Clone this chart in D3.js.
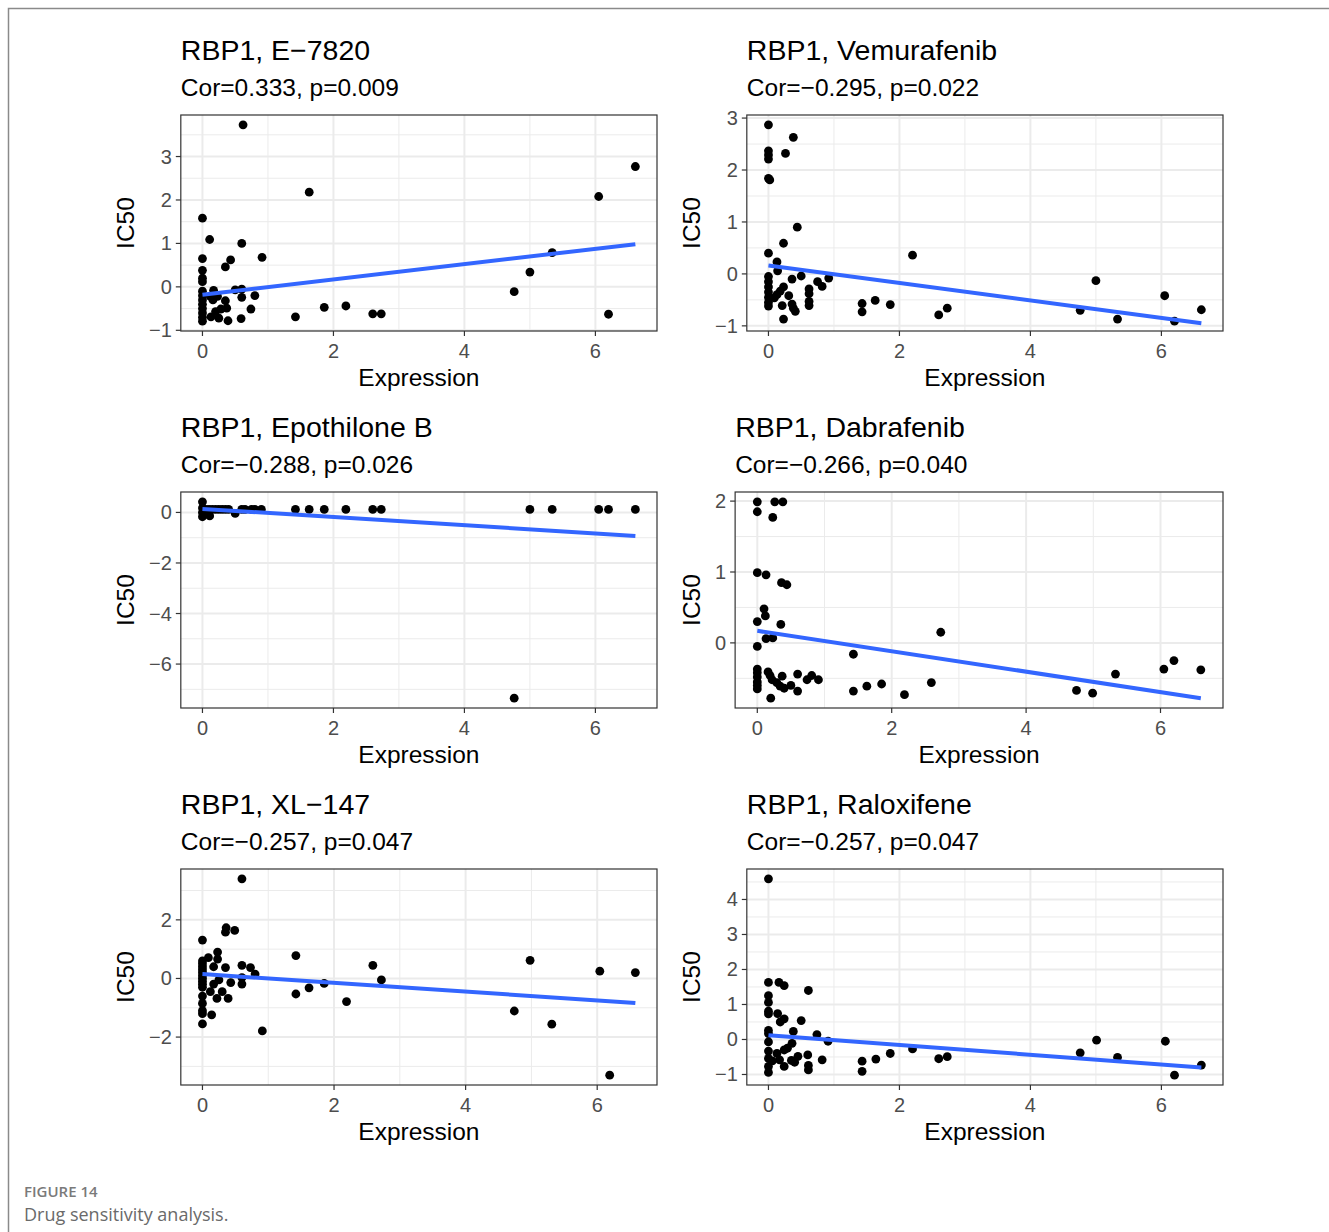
<!DOCTYPE html>
<html>
<head>
<meta charset="utf-8">
<script src="https://cdn.jsdelivr.net/npm/d3@7"></script>
<style>
  body { margin: 0; background: #fff; }
  text { font-family: "Liberation Sans", Arial, sans-serif; }
  text.caption { font-family: "Open Sans", sans-serif; }
</style>
</head>
<body>
<div id="chart"></div>
<script>
// gene and drugs
const gene = "RBP1";
const drugs = ["E−7820", "Vemurafenib", "Epothilone B", "Dabrafenib", "XL−147", "Raloxifene"];
const corLabels = ["Cor=0.333, p=0.009", "Cor=−0.295, p=0.022", "Cor=−0.288, p=0.026",
                   "Cor=−0.266, p=0.040", "Cor=−0.257, p=0.047", "Cor=−0.257, p=0.047"];

// [Expression, IC50]
const e7820 = [[0.62,3.73],[1.63,2.18],[6.05,2.08],[6.61,2.77],[0,1.58],[0.11,1.09],[0.60,1.0],[0,0.65],
  [0.91,0.68],[0.43,0.62],[0.35,0.46],[0,0.38],[0,0.2],[0,0.12],[5.34,0.79],[5.0,0.34],[4.76,-0.11],
  [6.2,-0.63],[1.42,-0.69],[1.86,-0.47],[2.19,-0.44],[2.6,-0.62],[2.73,-0.62],[0,-0.1],[0,-0.2],[0,-0.3],
  [0,-0.4],[0,-0.5],[0,-0.6],[0,-0.7],[0,-0.79],[0.17,-0.08],[0.12,-0.22],[0.23,-0.22],[0.16,-0.3],
  [0.35,-0.32],[0.37,-0.49],[0.28,-0.51],[0.2,-0.57],[0.13,-0.69],[0.25,-0.72],[0.39,-0.78],[0.6,-0.24],
  [0.6,-0.05],[0.5,-0.07],[0.8,-0.2],[0.74,-0.51],[0.59,-0.73]];
const vemurafenib = [[0,2.87],[0,2.37],[0,2.29],[0,2.21],[0.26,2.32],[0.38,2.63],[0,1.84],[0.02,1.81],
  [0.44,0.9],[0.23,0.59],[0,0.4],[0.13,0.23],[0.14,0.06],[2.2,0.36],[5.0,-0.13],[6.05,-0.42],[6.61,-0.69],
  [4.76,-0.7],[5.33,-0.87],[6.2,-0.91],[2.6,-0.79],[2.73,-0.66],[1.43,-0.57],[1.43,-0.73],[1.63,-0.51],
  [1.86,-0.59],[0.5,-0.04],[0.36,-0.1],[0.92,-0.08],[0.75,-0.15],[0.82,-0.24],[0.62,-0.29],[0.62,-0.38],
  [0.62,-0.53],[0.62,-0.61],[0.31,-0.42],[0.23,-0.25],[0.18,-0.33],[0.13,-0.4],[0.09,-0.46],[0.36,-0.58],
  [0.38,-0.66],[0.41,-0.72],[0.21,-0.61],[0.23,-0.87],[0,-0.05],[0,-0.15],[0,-0.25],[0,-0.35],[0,-0.45],
  [0,-0.55],[0,-0.62]];
const epothiloneB = [[0,0.42],[0,0.18],[0,0.0],[0,-0.17],[0.11,-0.14],[0.05,0.12],[0.1,0.12],[0.15,0.12],
  [0.2,0.12],[0.25,0.12],[0.3,0.12],[0.35,0.12],[0.4,0.12],[0.6,0.12],[0.65,0.12],[0.75,0.12],[0.8,0.12],
  [0.9,0.12],[0.5,-0.04],[1.42,0.12],[1.63,0.12],[1.86,0.12],[2.19,0.12],[2.6,0.12],[2.73,0.12],
  [5.0,0.12],[5.34,0.12],[6.05,0.12],[6.2,0.12],[6.61,0.12],[4.76,-7.35]];
const dabrafenib = [[0,1.99],[0,1.85],[0.26,1.99],[0.38,1.99],[0.23,1.77],[0,0.99],[0.13,0.96],[0.36,0.85],
  [0.44,0.82],[0.1,0.48],[0.12,0.38],[0,0.3],[0.35,0.26],[0.13,0.06],[0.23,0.07],[0,-0.05],[2.73,0.15],
  [1.43,-0.16],[0,-0.37],[0,-0.42],[0,-0.48],[0,-0.55],[0,-0.6],[0,-0.65],[0.16,-0.41],[0.19,-0.46],
  [0.22,-0.52],[0.2,-0.78],[0.37,-0.47],[0.29,-0.56],[0.34,-0.61],[0.4,-0.64],[0.5,-0.6],[0.6,-0.44],
  [0.6,-0.68],[0.74,-0.52],[0.81,-0.46],[0.91,-0.52],[1.43,-0.68],[1.63,-0.61],[1.85,-0.58],[2.19,-0.73],
  [2.59,-0.56],[4.75,-0.67],[4.99,-0.71],[5.33,-0.44],[6.05,-0.37],[6.2,-0.25],[6.6,-0.38]];
const xl147 = [[0.6,3.4],[0,1.31],[0.36,1.73],[0.35,1.58],[0.49,1.64],[1.42,0.78],[4.98,0.62],[2.59,0.45],
  [6.04,0.25],[6.58,0.2],[2.72,-0.05],[1.85,-0.17],[1.62,-0.32],[1.42,-0.53],[2.19,-0.79],[4.74,-1.11],
  [5.31,-1.56],[6.19,-3.3],[0.91,-1.79],[0,0.6],[0,0.5],[0,0.4],[0,0.3],[0,0.2],[0,0.1],[0,0],[0,-0.1],
  [0,-0.2],[0,-0.3],[0,-0.6],[0,-0.85],[0,-1.1],[0,-1.2],[0,-1.55],[0.09,0.71],[0.23,0.9],[0.23,0.66],
  [0.17,0.4],[0.35,0.37],[0.6,0.45],[0.73,0.37],[0.8,0.15],[0.6,0.03],[0.6,-0.19],[0.43,-0.14],
  [0.25,-0.05],[0.17,-0.19],[0.12,-0.45],[0.3,-0.45],[0.39,-0.68],[0.22,-0.68],[0.14,-1.24]];
const raloxifene = [[0,4.59],[0,1.63],[0.16,1.63],[0.24,1.54],[0.61,1.4],[0,1.25],[0,1.06],[0,0.81],
  [0,0.73],[0.14,0.74],[0.24,0.59],[0.18,0.5],[0.5,0.54],[0,0.26],[0,0.17],[0.38,0.23],[0.74,0.14],
  [0.36,-0.11],[0,-0.07],[0.91,-0.05],[0.29,-0.25],[0.24,-0.3],[0,-0.33],[0.13,-0.4],[0.45,-0.48],
  [0.6,-0.44],[0,-0.54],[0.06,-0.61],[0.17,-0.58],[0.35,-0.6],[0.4,-0.65],[0.24,-0.77],[0,-0.77],
  [0,-0.94],[0.61,-0.74],[0.61,-0.87],[0.82,-0.58],[1.43,-0.62],[1.43,-0.91],[1.64,-0.56],[1.86,-0.4],
  [2.2,-0.27],[2.6,-0.55],[2.73,-0.49],[4.76,-0.38],[5.01,-0.02],[5.33,-0.51],[6.06,-0.05],[6.2,-1.02],
  [6.61,-0.73]];
const panelData = [e7820, vemurafenib, epothiloneB, dabrafenib, xl147, raloxifene];

// linear fit
const fitIntercept = [-0.18, 0.16, 0.14, 0.17, 0.15, 0.12];
const fitSlope = [0.176, -0.168, -0.162, -0.144, -0.15, -0.139];

// axis breaks
const xTicks = [0, 2, 4, 6];
const yTicks = [[-1, 0, 1, 2, 3], [-1, 0, 1, 2, 3], [-6, -4, -2, 0], [0, 1, 2], [-2, 0, 2], [-1, 0, 1, 2, 3, 4]];

const width = 1329, height = 1232;
const svg = d3.select("#chart").append("svg")
  .attr("width", width)
  .attr("height", height);

svg.append("rect").attr("width", width).attr("height", height).attr("fill", "#fff");

// figure frame (top + left)
svg.append("path")
  .attr("d", "M8.5,1232V8.5H1329")
  .attr("fill", "none")
  .attr("stroke", "#8a8a8a")
  .attr("stroke-width", 1.5);

const ylabX = [125, 691];
const plotRight = [657, 1223];
const plotTop = [115, 492, 869];
const plotH = 216;

// ggplot-like 5% expansion
function expand(ext) {
  const pad = (ext[1] - ext[0]) * 0.05;
  return [ext[0] - pad, ext[1] + pad];
}

function minorBreaks(ticks, domain) {
  const step = ticks[1] - ticks[0];
  const out = [];
  for (let v = ticks[0] - step / 2; v <= domain[1]; v += step) {
    if (v >= domain[0]) out.push(v);
  }
  return out;
}

panelData.forEach((data, i) => {
  const col = i % 2, row = Math.floor(i / 2);
  const top = plotTop[row], bottom = top + plotH;
  const right = plotRight[col];
  const g = svg.append("g");

  const y = d3.scaleLinear().domain(expand(d3.extent(data, d => d[1])));

  // y tick labels first, to measure their width
  const yLab = g.append("g").selectAll("text")
    .data(yTicks[i]).enter().append("text")
    .attr("text-anchor", "end")
    .attr("dy", "0.35em")
    .attr("font-size", 20)
    .attr("fill", "#4d4d4d")
    .text(d => d < 0 ? "−" + Math.abs(d) : d);
  const maxW = d3.max(yLab.nodes(), n => n.getComputedTextLength());
  const left = ylabX[col] + 33 + maxW;

  y.range([bottom, top]);
  const x = d3.scaleLinear()
    .domain(expand(d3.extent(data, d => d[0])))
    .range([left, right]);

  yLab.attr("x", left - 9).attr("y", d => y(d));

  // panel grid
  const grid = g.insert("g", ":first-child");
  grid.selectAll(".xminor").data(minorBreaks(xTicks, x.domain())).enter().append("line")
    .attr("x1", d => x(d)).attr("x2", d => x(d)).attr("y1", top).attr("y2", bottom)
    .attr("stroke", "#ebebeb").attr("stroke-width", 1);
  grid.selectAll(".yminor").data(minorBreaks(yTicks[i], y.domain())).enter().append("line")
    .attr("x1", left).attr("x2", right).attr("y1", d => y(d)).attr("y2", d => y(d))
    .attr("stroke", "#ebebeb").attr("stroke-width", 1);
  grid.selectAll(".xmajor").data(xTicks).enter().append("line")
    .attr("x1", d => x(d)).attr("x2", d => x(d)).attr("y1", top).attr("y2", bottom)
    .attr("stroke", "#ebebeb").attr("stroke-width", 2);
  grid.selectAll(".ymajor").data(yTicks[i]).enter().append("line")
    .attr("x1", left).attr("x2", right).attr("y1", d => y(d)).attr("y2", d => y(d))
    .attr("stroke", "#ebebeb").attr("stroke-width", 2);

  // points
  g.append("g").selectAll("circle")
    .data(data).enter().append("circle")
    .attr("cx", d => x(d[0]))
    .attr("cy", d => y(d[1]))
    .attr("r", 4.4)
    .attr("fill", "#000");

  // lm line
  const xr = d3.extent(data, d => d[0]);
  g.append("path")
    .datum(xr.map(v => [v, fitIntercept[i] + fitSlope[i] * v]))
    .attr("d", d3.line().x(d => x(d[0])).y(d => y(d[1])))
    .attr("fill", "none")
    .attr("stroke", "#3366FF")
    .attr("stroke-width", 4);

  // border
  g.append("rect")
    .attr("x", left).attr("y", top)
    .attr("width", right - left).attr("height", bottom - top)
    .attr("fill", "none").attr("stroke", "#333").attr("stroke-width", 1.2);

  // ticks
  g.append("g").selectAll("line").data(xTicks).enter().append("line")
    .attr("x1", d => x(d)).attr("x2", d => x(d)).attr("y1", bottom).attr("y2", bottom + 5)
    .attr("stroke", "#333").attr("stroke-width", 1.2);
  g.append("g").selectAll("line").data(yTicks[i]).enter().append("line")
    .attr("x1", left - 5).attr("x2", left).attr("y1", d => y(d)).attr("y2", d => y(d))
    .attr("stroke", "#333").attr("stroke-width", 1.2);

  g.append("g").selectAll("text").data(xTicks).enter().append("text")
    .attr("x", d => x(d)).attr("y", bottom + 27)
    .attr("text-anchor", "middle")
    .attr("font-size", 20)
    .attr("fill", "#4d4d4d")
    .text(d => d);

  // axis titles
  g.append("text")
    .attr("x", (left + right) / 2).attr("y", bottom + 55)
    .attr("text-anchor", "middle")
    .attr("font-size", 24.5)
    .attr("fill", "#000")
    .text("Expression");
  g.append("text")
    .attr("transform", `translate(${ylabX[col]},${(top + bottom) / 2}) rotate(-90)`)
    .attr("text-anchor", "middle")
    .attr("dy", "0.35em")
    .attr("font-size", 24.5)
    .attr("fill", "#000")
    .text("IC50");

  // titles
  g.append("text")
    .attr("x", left).attr("y", top - 55)
    .attr("font-size", 28.5)
    .attr("fill", "#000")
    .text(gene + ", " + drugs[i]);
  g.append("text")
    .attr("x", left).attr("y", top - 19)
    .attr("font-size", 24.5)
    .attr("fill", "#000")
    .text(corLabels[i]);
});

// caption
svg.append("text")
  .attr("class", "caption")
  .attr("x", 24).attr("y", 1197)
  .attr("font-weight", 600)
  .attr("font-size", 15)
  .attr("fill", "#7a7a7a")
  .text("FIGURE 14");
svg.append("text")
  .attr("class", "caption")
  .attr("x", 24).attr("y", 1221)
  .attr("font-size", 18)
  .attr("fill", "#6a6a6a")
  .text("Drug sensitivity analysis.");
</script>
</body>
</html>
